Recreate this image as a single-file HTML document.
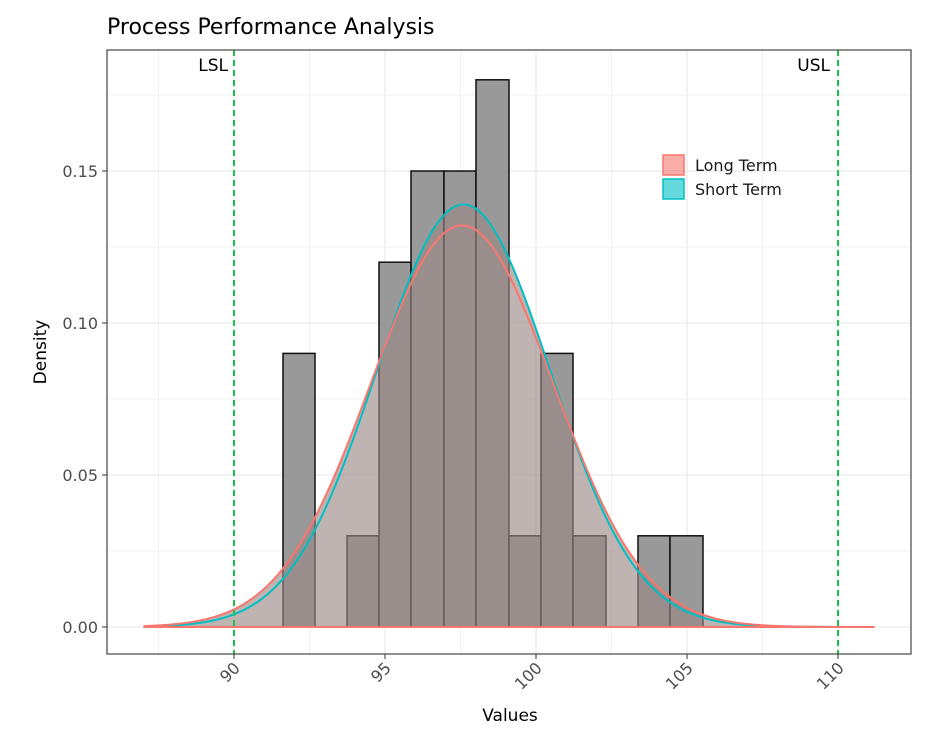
<!DOCTYPE html>
<html><head><meta charset="utf-8"><style>
body{margin:0;background:#fff;}
text{font-family:"DejaVu Sans","Liberation Sans",sans-serif;}
</style></head><body>
<svg id="s" width="941" height="738" xmlns="http://www.w3.org/2000/svg">
<rect width="941" height="738" fill="#fff"/>
<text x="107" y="34" font-size="22" fill="#000">Process Performance Analysis</text>
<g id="grid"></g>
<g id="bars"></g>
<g id="dens"></g>
<line x1="234" y1="50" x2="234" y2="654" stroke="#1ec24a" stroke-width="2" stroke-dasharray="6,4"/>
<line x1="838" y1="50" x2="838" y2="654" stroke="#1ec24a" stroke-width="2" stroke-dasharray="6,4"/>
<text x="228" y="71" font-size="17" text-anchor="end">LSL</text>
<text x="830" y="71" font-size="17" text-anchor="end">USL</text>
<rect x="107" y="50" width="804" height="604" fill="none" stroke="#333" stroke-width="1.1"/>
<g id="ax" font-size="16" fill="#4d4d4d"></g>
<text x="510" y="721" font-size="17" text-anchor="middle">Values</text>
<text transform="translate(46,352) rotate(-90)" font-size="17" text-anchor="middle">Density</text>
<rect x="663" y="155" width="21" height="20" fill="#F8766D" fill-opacity="0.6" stroke="#F8766D" stroke-width="1.5"/>
<rect x="663" y="179" width="21" height="20" fill="#00BFC4" fill-opacity="0.6" stroke="#00BFC4" stroke-width="1.5"/>
<text x="695" y="171" font-size="16" fill="#1a1a1a">Long Term</text>
<text x="695" y="195" font-size="16" fill="#1a1a1a">Short Term</text>
</svg>
<script>
const X=v=>234+(v-90)*30.2, Y=d=>627-d*3040, NS="http://www.w3.org/2000/svg";
function el(p,t,a,txt){const e=document.createElementNS(NS,t);for(const k in a)e.setAttribute(k,a[k]);if(txt!==undefined)e.textContent=txt;document.getElementById(p).appendChild(e);return e;}
for(let v=87.5;v<112.5;v+=2.5){const maj=v%5==0;el("grid","line",{x1:X(v),x2:X(v),y1:50,y2:654,stroke:"#ebebeb","stroke-width":maj?1.3:0.7});}
for(let d=0;d<0.19;d+=0.025){const maj=Math.round(d*1000)%50==0;el("grid","line",{x1:107,x2:911,y1:Y(d),y2:Y(d),stroke:"#ebebeb","stroke-width":maj?1.3:0.7});}
const bars=[[283,315,.09],[347,379,.03],[379,411,.12],[411,444,.15],[444,476,.15],[476,509,.18],[509,541,.03],[541,573,.09],[573,606,.03],[638,670,.03],[670,703,.03]];
bars.forEach(b=>el("bars","rect",{x:b[0],y:Y(b[2]),width:b[1]-b[0],height:Y(0)-Y(b[2]),fill:"#999",stroke:"#111","stroke-width":1.5}));
const f=(x,m,s)=>Math.exp(-0.5*((x-m)/s)**2)/(s*2.5066);
let pl="",ps="",pu="";
for(let x=87;x<=111.2;x+=0.05){const a=f(x,97.55,3.02),b=f(x,97.6,2.87);pl+=`${X(x)},${Y(a)} `;ps+=`${X(x)},${Y(b)} `;pu+=`${X(x)},${Y(Math.max(a,b))} `;}
el("dens","polygon",{points:`${X(87)},${Y(0)} `+pu+`${X(111.2)},${Y(0)}`,fill:"rgb(155,137,134)","fill-opacity":0.63});
el("dens","polyline",{points:ps,fill:"none",stroke:"#00BFC4","stroke-width":2});
el("dens","polyline",{points:pl,fill:"none",stroke:"#F8766D","stroke-width":2});
el("dens","line",{x1:X(87),x2:X(111.2),y1:Y(0),y2:Y(0),stroke:"#F8766D","stroke-width":2});
[0,0.05,0.1,0.15].forEach(d=>{el("ax","line",{x1:102,x2:107,y1:Y(d),y2:Y(d),stroke:"#333"});el("ax","text",{x:98,y:Y(d)+6,"text-anchor":"end"},d.toFixed(2));});
[90,95,100,105,110].forEach(v=>{el("ax","line",{x1:X(v),x2:X(v),y1:654,y2:659,stroke:"#333"});el("ax","text",{transform:`translate(${X(v)+7},${669}) rotate(-45)`,"text-anchor":"end"},v);});
</script>
</body></html>
